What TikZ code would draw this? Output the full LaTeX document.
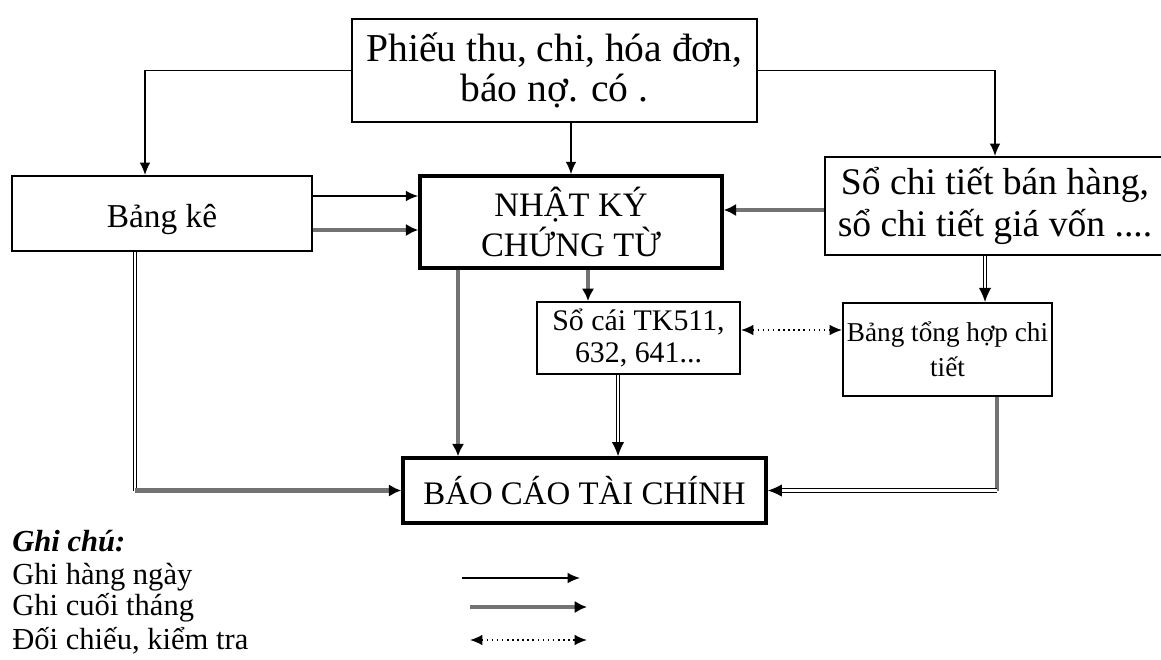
\documentclass[tikz,border=0pt]{standalone}
\usepackage{fontspec}
\setmainfont{Liberation Serif}
\usetikzlibrary{arrows.meta,calc}

\tikzset{
  box/.style={draw,line width=1.1pt,inner sep=0pt,align=center},
  mainbox/.style={box,line width=2pt},
  daily/.style={line width=0.9pt,-{Latex[length=7pt,width=6pt]}},
  monthly/.style={line width=2.6pt,black!55,-{Latex[length=7pt,width=7pt,color=black]}},
  dbl/.style={double,double distance=1.3pt,line width=0.7pt,-{Latex[length=8pt,width=7pt]}},
  check/.style={dotted,line width=0.9pt,{Latex[length=7pt,width=6pt]}-{Latex[length=7pt,width=6pt]}},
  legtext/.style={anchor=west,inner sep=0pt,font=\fontsize{17.4}{19}\selectfont},
}

\begin{document}
\begin{tikzpicture}[x=1cm,y=1cm]
  \useasboundingbox (0,0) rectangle (23.22,13.18);
  % boxes
  \node[box,minimum width=8.1cm,minimum height=2.06cm,font=\fontsize{22.5}{23}\selectfont] (src) at (11.09,11.77)
    {Phiếu thu, chi, hóa đơn,\\báo nợ. có .};
  \node[box,minimum width=6cm,minimum height=1.5cm,text height=20pt,font=\fontsize{19}{20}\selectfont] (bke) at (3.24,8.91) {Bảng kê};
  \node[mainbox,minimum width=6.04cm,minimum height=1.84cm,font=\fontsize{19.5}{22.7}\selectfont] (nkct) at (11.42,8.74)
    {NHẬT KÝ\\CHỨNG TỪ};
  \node[box,minimum width=6.8cm,minimum height=1.96cm,font=\fontsize{21.4}{23.8}\selectfont] (sct) at (19.9,9.06)
    {Sổ chi tiết bán hàng,\\sổ chi tiết giá vốn ....};
  \node[box,minimum width=4.06cm,minimum height=1.44cm,font=\fontsize{17}{18.5}\selectfont] (socai) at (12.77,6.42)
    {Sổ cái TK511,\\632, 641...};
  \node[box,minimum width=4.18cm,minimum height=1.86cm,font=\fontsize{15.5}{19.8}\selectfont] (bth) at (18.95,6.19)
    {Bảng tổng hợp chi\\tiết};
  \node[mainbox,minimum width=7.26cm,minimum height=1.3cm,font=\fontsize{18.7}{22}\selectfont] (bctc) at (11.69,3.37)
    {BÁO CÁO TÀI CHÍNH};

  % connector end points
  \coordinate (bk0) at ($(bke.north)+(-0.34,0)$);
  \coordinate (bk2) at ($(bke.east)+(0,0.35)$);
  \coordinate (bk3) at ($(bke.east)+(0,-0.33)$);
  \coordinate (bk4) at ($(bke.south)+(-0.54,0)$);
  \coordinate (sc1) at ($(sct.west)+(0,-0.08)$);
  \coordinate (sc2) at ($(sct.south)+(-0.2,0)$);
  \coordinate (nk1) at ($(nkct.south)+(0.34,0)$);
  \coordinate (nk2) at ($(nkct.south)+(-2.26,0)$);
  \coordinate (so1) at ($(socai.south)+(-0.41,0)$);
  \coordinate (so2) at ($(socai.east)+(0,0.16)$);
  \coordinate (bt0) at ($(bth.south)+(0.99,0)$);

  % connectors
  \draw[daily] (src.west) -| (bk0);
  \draw[daily] (src.east) -| (sct.north);
  \draw[daily] (nkct.north |- src.south) -- (nkct.north);
  \draw[daily] (bk2) -- (bk2 -| nkct.west);
  \draw[monthly] (bk3) -- (bk3 -| nkct.west);
  \draw[monthly] (sc1) -- (sc1 -| nkct.east);
  \draw[monthly] (nk1) -- (nk1 |- socai.north);
  \draw[monthly] (nk2) -- (nk2 |- bctc.north);
  \draw[dbl,-] (bk4) -- (bk4 |- bctc.west) coordinate (bk1);
  \draw[monthly] (bk1) -- (bctc.west);
  \draw[dbl] (so1) -- (so1 |- bctc.north);
  \draw[dbl] (sc2) -- (sc2 |- bth.north);
  \draw[monthly,-] (bt0) -- (bt0 |- bctc.east) coordinate (bt1);
  \draw[dbl] (bt1) -- (bctc.east);
  \draw[check] (so2) -- (so2 -| bth.west);

  % legend
  \node[legtext,font=\fontsize{17.4}{19}\bfseries\itshape] (ghichu) at (0.24,2.36) {Ghi chú:};
  \node[legtext] (leg1) at (0.24,1.64) {Ghi hàng ngày};
  \node[legtext] (leg2) at (0.24,1.02) {Ghi cuối tháng};
  \node[legtext] (leg3) at (0.24,0.36) {Đối chiếu, kiểm tra};
  \coordinate (d1a) at (9.24,1.62);  \coordinate (d1b) at (11.6,1.62);
  \coordinate (d2a) at (9.4,1.04);   \coordinate (d2b) at (11.74,1.04);
  \coordinate (d3a) at (9.4,0.38);   \coordinate (d3b) at (11.74,0.38);
  \draw[daily] (d1a) -- (d1b);
  \draw[monthly] (d2a) -- (d2b);
  \draw[check] (d3a) -- (d3b);
\end{tikzpicture}
\end{document}
